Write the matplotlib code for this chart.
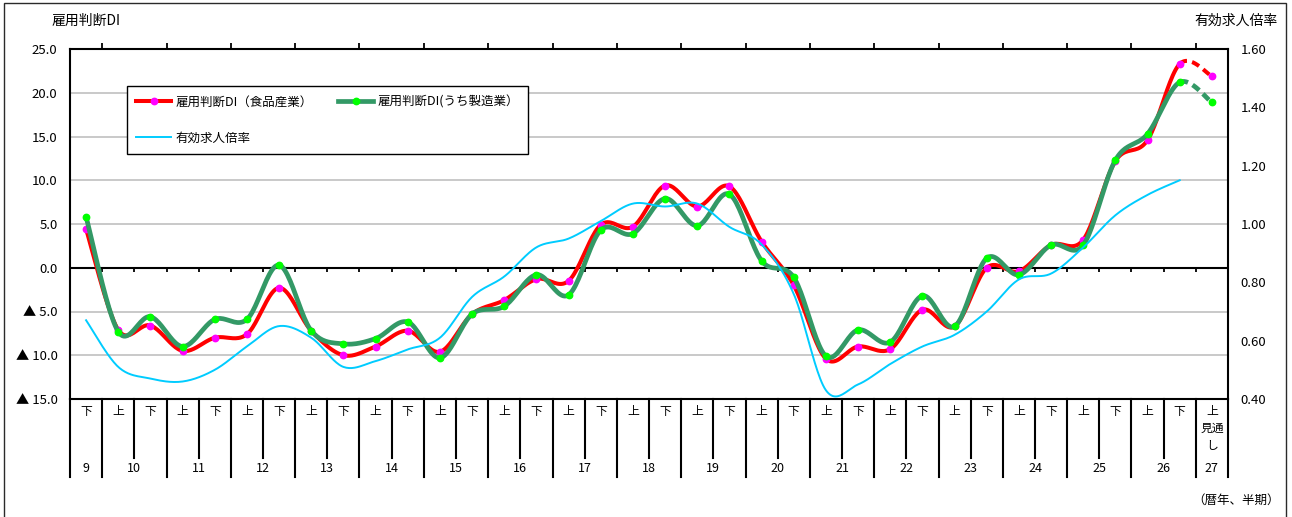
import numpy as np
import matplotlib
matplotlib.use("Agg")
import matplotlib.pyplot as plt
import matplotlib.transforms as mtransforms
from matplotlib.lines import Line2D
from matplotlib.patches import Rectangle
from matplotlib.ticker import FixedLocator, FuncFormatter, NullFormatter

plt.rcParams['font.family'] = ['Noto Sans CJK JP', 'DejaVu Sans']

# ---- data -------------------------------------------------------------
half_labels = ['下', '上', '下', '上', '下', '上', '下', '上', '下', '上',
               '下', '上', '下', '上', '下', '上', '下', '上', '下', '上',
               '下', '上', '下', '上', '下', '上', '下', '上', '下', '上',
               '下', '上', '下', '上', '下', '上\n見通\nし']
year_groups = [('9', 1), ('10', 2), ('11', 2), ('12', 2), ('13', 2), ('14', 2),
               ('15', 2), ('16', 2), ('17', 2), ('18', 2), ('19', 2), ('20', 2),
               ('21', 2), ('22', 2), ('23', 2), ('24', 2), ('25', 2), ('26', 2),
               ('27', 1)]

food_di = [4.4, -7.1, -6.6, -9.5, -8.0, -7.6, -2.3, -7.2, -10.0, -9.0,
           -7.2, -9.6, -5.3, -3.7, -1.3, -1.5, 4.9, 4.7, 9.4, 7.0,
           9.3, 3.0, -2.0, -10.4, -9.0, -9.3, -4.8, -6.7, 0.0, -0.4,
           2.6, 3.2, 12.2, 14.6, 23.3, 21.9]
mfg_di = [5.8, -7.3, -5.6, -9.0, -5.9, -5.9, 0.3, -7.2, -8.7, -8.1,
          -6.2, -10.3, -5.3, -4.4, -0.8, -3.1, 4.3, 3.9, 7.9, 4.8,
          8.4, 0.8, -1.1, -10.1, -7.1, -8.5, -3.2, -6.7, 1.1, -0.8,
          2.6, 2.6, 12.3, 15.3, 21.2, 18.9]
job_ratio = [0.67, 0.51, 0.47, 0.46, 0.50, 0.58, 0.65, 0.61, 0.51, 0.53,
             0.57, 0.61, 0.75, 0.82, 0.92, 0.95, 1.01, 1.07, 1.06, 1.07,
             0.99, 0.93, 0.76, 0.43, 0.45, 0.52, 0.58, 0.62, 0.70, 0.81,
             0.83, 0.92, 1.03, 1.10, 1.15]

di_ticks = [-15, -10, -5, 0, 5, 10, 15, 20, 25]
ratio_ticks = [0.40, 0.60, 0.80, 1.00, 1.20, 1.40, 1.60]

# ---- helpers ----------------------------------------------------------
W, H = 1292, 517


def fx(px):
    return px / W


def fy(py):
    return 1 - py / H


def smooth_segments(values, n=24):
    """Bezier-smoothed curve through the points, one array pair per segment."""
    y = np.asarray(values, float)
    x = np.arange(len(y), dtype=float)
    segs = []

    def bez(v, i):
        p = np.concatenate([[v[0]], v, [v[-1]]])
        p0, p1, p2, p3 = p[i], p[i + 1], p[i + 2], p[i + 3]
        b1 = p1 + (p2 - p0) / 6
        b2 = p2 - (p3 - p1) / 6
        t = np.linspace(0, 1, n)
        return (1 - t) ** 3 * p1 + 3 * (1 - t) ** 2 * t * b1 + 3 * (1 - t) * t ** 2 * b2 + t ** 3 * p2

    for i in range(len(y) - 1):
        segs.append((bez(x, i), bez(y, i)))
    return segs


def join(segs):
    return np.concatenate([s[0] for s in segs]), np.concatenate([s[1] for s in segs])


# ---- figure -----------------------------------------------------------
fig = plt.figure(figsize=(W / 100, H / 100), dpi=100)
fig.patch.set_facecolor('white')

# outer frame
fig.add_artist(Rectangle((fx(4), fy(525)), fx(1286) - fx(4), fy(3) - fy(525),
                         transform=fig.transFigure, fill=False,
                         edgecolor='#2a2a2a', lw=1.0))

ax = fig.add_axes([fx(70), fy(399), fx(1228) - fx(70), fy(49) - fy(399)])
ax2 = ax.twinx()

n_cat = len(half_labels)
ax.set_xlim(-0.5, n_cat - 0.5)
ax.set_ylim(di_ticks[0], di_ticks[-1])
ax2.set_ylim(ratio_ticks[0], ratio_ticks[-1])

# grid
for v in di_ticks:
    if v not in (di_ticks[0], 0, di_ticks[-1]):
        ax.axhline(v, color='#c0c0c0', lw=1.2, zorder=0.5)
ax.axhline(0, color='black', lw=1.5, zorder=2)

for sp in ax.spines.values():
    sp.set_color('black')
    sp.set_linewidth(1.5)
for sp in ax2.spines.values():
    sp.set_visible(False)

# y axes
ax.yaxis.set_major_locator(FixedLocator(di_ticks))
ax.yaxis.set_major_formatter(FuncFormatter(
    lambda v, p: f'{v:.1f}' if v >= 0 else f'▲ {abs(v):.1f}'))
ax.tick_params(axis='y', length=0, pad=9, labelsize=9.5, colors='black')
ax2.yaxis.set_major_locator(FixedLocator(ratio_ticks))
ax2.yaxis.set_major_formatter(FuncFormatter(lambda v, p: f'{v:.2f}'))
ax2.tick_params(axis='y', length=0, pad=9, labelsize=9.5, colors='black')

# x axis: year-boundary ticks along the top edge
bounds = np.arange(n_cat + 1) - 0.5
year_bounds = [-0.5]
pos = -0.5
for _, cnt in year_groups:
    pos += cnt
    year_bounds.append(pos)
ax.xaxis.set_major_locator(FixedLocator(year_bounds[1:-1]))
ax.xaxis.set_major_formatter(NullFormatter())
ax.tick_params(axis='x', top=True, bottom=False, labelbottom=False,
               direction='out', length=4, width=1.3, color='black')

# small ticks hanging from the zero line
ax.vlines(bounds[1:-1], -0.5, 0, color='black', lw=1.3, zorder=2)

# ---- series -----------------------------------------------------------
food_segs = smooth_segments(food_di)
mfg_segs = smooth_segments(mfg_di)
ratio_segs = smooth_segments(job_ratio)

red, magenta = '#ff0000', '#ff00ff'
dgreen, lime = '#339966', '#00ff00'
sky = '#00ccff'

xs, ys = join(food_segs[:-1])
ax.plot(xs, ys, color=red, lw=2.9, zorder=3, solid_capstyle='round')
ax.plot(*food_segs[-1], color=red, lw=2.9, zorder=3, dashes=(2.0, 1.3))
ax.plot(np.arange(n_cat), food_di, ls='none', marker='o', ms=4.6,
        mfc=magenta, mec=magenta, zorder=3.1)

xs, ys = join(mfg_segs[:-1])
ax.plot(xs, ys, color=dgreen, lw=3.4, zorder=3.2, solid_capstyle='round')
ax.plot(*mfg_segs[-1], color=dgreen, lw=3.4, zorder=3.2, dashes=(1.8, 1.1))
ax.plot(np.arange(n_cat), mfg_di, ls='none', marker='o', ms=4.6,
        mfc=lime, mec=lime, zorder=3.3)

xs, ys = join(ratio_segs)
ax2.plot(xs, ys, color=sky, lw=1.4, zorder=3)

# ---- legend -----------------------------------------------------------
h_food = Line2D([], [], color=red, lw=2.9, marker='o', ms=4.6, mfc=magenta, mec=magenta)
h_mfg = Line2D([], [], color=dgreen, lw=3.4, marker='o', ms=4.6, mfc=lime, mec=lime)
h_ratio = Line2D([], [], color=sky, lw=1.4)
leg = ax2.legend([h_food, h_ratio, h_mfg],
                 ['雇用判断DI（食品産業）', '有効求人倍率', '雇用判断DI(うち製造業）'],
                 ncol=2, loc='upper left', bbox_to_anchor=(fx(127), fy(86)),
                 bbox_transform=fig.transFigure, fontsize=9, frameon=True,
                 fancybox=False, framealpha=1, edgecolor='black',
                 handlelength=2.8, handletextpad=0.35, columnspacing=2.0,
                 labelspacing=1.85, borderpad=0.75, borderaxespad=0)
leg.get_frame().set_linewidth(1.0)
leg.set_zorder(10)

# ---- category table under the plot ------------------------------------
trans = mtransforms.blended_transform_factory(ax.transData, fig.transFigure)
for b in bounds:
    long_line = any(abs(b - yb) < 1e-9 for yb in year_bounds)
    bottom = 477 if long_line else 458
    fig.add_artist(Line2D([b, b], [fy(399), fy(bottom)], transform=trans,
                          color='black', lw=1.5))

for i, lab in enumerate(half_labels):
    fig.text(i, fy(405), lab, transform=trans, ha='center', va='top',
             fontsize=8.5, linespacing=1.38)

start = 0
for yr, cnt in year_groups:
    center = start + (cnt - 1) / 2
    fig.text(center, fy(469), yr, transform=trans, ha='center', va='center',
             fontsize=9)
    start += cnt

# ---- titles ----------------------------------------------------------
fig.text(fx(52), fy(21), '雇用判断DI', ha='left', va='center', fontsize=10)
fig.text(fx(1278), fy(21), '有効求人倍率', ha='right', va='center', fontsize=10)
fig.text(fx(1280), fy(500), '（暦年、半期）', ha='right', va='center', fontsize=9)

fig.savefig('out.png', dpi=100, facecolor='white')
